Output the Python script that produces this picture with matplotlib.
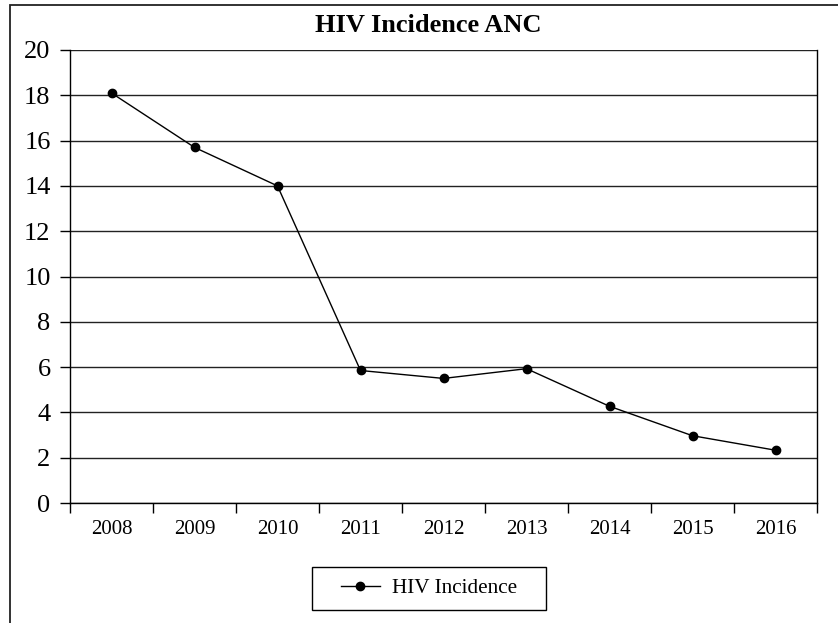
import matplotlib
matplotlib.use("Agg")
import matplotlib.pyplot as plt
from matplotlib.patches import Rectangle
import numpy as np

years = ["2008", "2009", "2010", "2011", "2012", "2013", "2014", "2015", "2016"]
incidence = [18.1, 15.7, 14.0, 5.85, 5.5, 5.93, 4.27, 2.97, 2.33]
series_name = "HIV Incidence"
title = "HIV Incidence ANC"

plt.rcParams['font.family'] = ['Liberation Serif', 'DejaVu Serif']

W, H = 838, 623
fig = plt.figure(figsize=(W/100, H/100), dpi=100)
ax = fig.add_axes([70/W, 1-503/H, (817-70)/W, (503-50)/H])

x = np.arange(len(years))
ax.plot(x, incidence, color='black', lw=1.0, marker='o', ms=6, label=series_name)

ax.set_xlim(-0.5, len(years)-0.5)
ax.set_ylim(0, 20)
ax.set_yticks(np.arange(0, 21, 2))
ax.set_yticklabels([str(v) for v in range(0, 21, 2)], fontsize=19)
ax.set_xticks(x)
ax.set_xticklabels(years, fontsize=15)
ax.set_xticks(np.arange(-0.5, len(years), 1), minor=True)
ax.tick_params(axis='x', which='major', length=0, pad=12)
ax.tick_params(axis='x', which='minor', length=7, width=1, direction='out')
ax.tick_params(axis='y', length=7, width=1, direction='out', pad=7)
ax.yaxis.grid(True, color='#222222', lw=1)
ax.set_axisbelow(True)
for s in ax.spines.values():
    s.set_color('black')
    s.set_linewidth(1)
ax.spines['top'].set_visible(False)

fig.text(428/W, 1-25/H, title, ha='center', va='center', fontsize=19, fontweight='bold')

leg = fig.legend(loc='center', bbox_to_anchor=(429/W, 1-588.5/H), frameon=False,
                 fontsize=15.3, handlelength=1.8, borderpad=0.3,
                 handletextpad=0.56, borderaxespad=0)

fig.patches.append(Rectangle((312/W, 1-610/H), (546-312)/W, (610-567)/H,
                             transform=fig.transFigure, fill=False, edgecolor='black', lw=1))
fig.patches.append(Rectangle((10/W, -0.05), 1.2, (1 - 4.5/H) + 0.05, transform=fig.transFigure,
                             fill=False, edgecolor='#222222', lw=1.3, clip_on=False))

fig.savefig("out.png", dpi=100)
